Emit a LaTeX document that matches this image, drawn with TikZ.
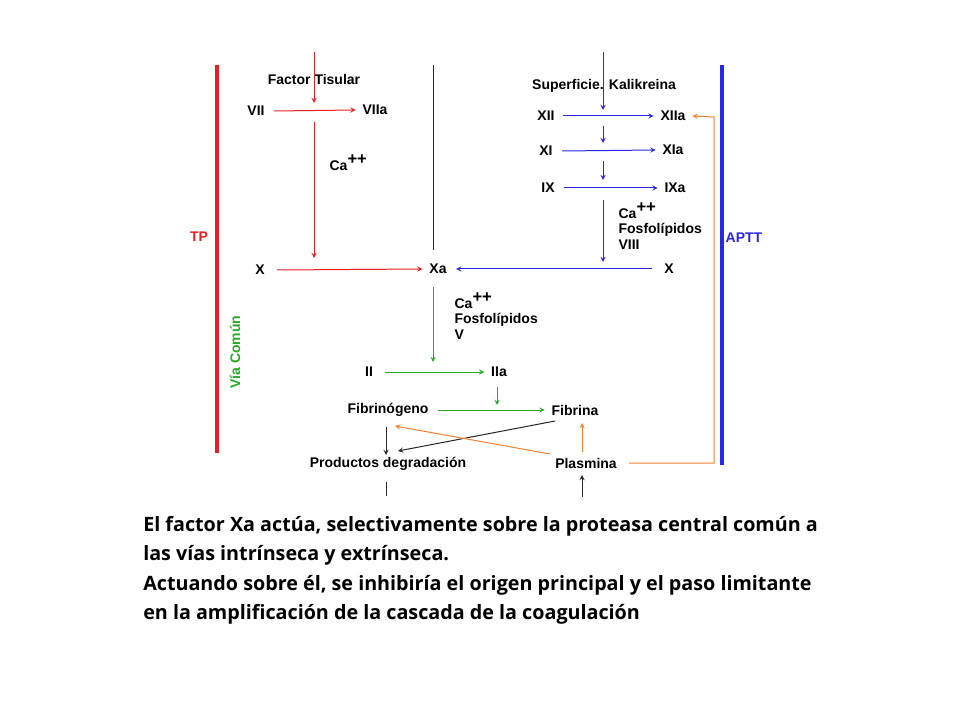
\documentclass[tikz,border=0pt]{standalone}
\usepackage{fontspec}
\setmainfont{Liberation Sans}
\newfontfamily\bodyfont{Open Sans}
\newcommand{\capp}{Ca\raisebox{0.8ex}{\fontsize{12.5}{12.5}\selectfont ++}}
\begin{document}
\begin{tikzpicture}[x=0.75pt,y=-0.75pt,
 lbl/.style={font=\bfseries\fontsize{10.5}{11.5}\selectfont,inner sep=1pt},
 ar/.style={->,>=stealth,line width=0.75pt},
 cr/.style={ar,draw={rgb,255:red,235;green,30;blue,35}},
 cb/.style={ar,draw={rgb,255:red,40;green,40;blue,230}},
 cg/.style={ar,draw={rgb,255:red,40;green,170;blue,40}},
 co/.style={ar,draw={rgb,255:red,245;green,130;blue,50}},
 ck/.style={ar,draw=black!85}]
\definecolor{tr}{RGB}{235,30,35}\definecolor{tb}{RGB}{40,40,230}
\definecolor{tg}{RGB}{40,170,40}\definecolor{to}{RGB}{245,130,50}
\useasboundingbox (0,0) rectangle (960,720);
\fill[white] (0,0) rectangle (960,720);
% bars
\coordinate (tpT) at (217,65); \coordinate (tpB) at (217,453);
\draw[tr,line width=2.4pt] (tpT)--(tpB);
\coordinate (apT) at (722,65); \coordinate (apB) at (722,465);
\draw[tb,line width=2.4pt] (apT)--(apB);
\node[lbl,text=tr] (tp) at (199,237) {TP};
\node[lbl,text=tb] (aptt) at (744,238) {APTT};
\node[lbl,text=tg,rotate=90] (via) at (235,352) {Vía Común};
\coordinate (kT) at (433,65); \coordinate (kB) at (433,250);
\draw[black!85,line width=0.75pt] (kT)--(kB);
% extrinsic
\node[lbl] (ft) at (314,79) {Factor Tisular};
\coordinate (ftT) at (314,52); \coordinate (ftB) at (314,103);
\draw[cr] (ftT)--(ftB);
\node[lbl] (vii) at (256,111) {VII};
\node[lbl] (viia) at (375,110) {VIIa};
\draw[cr] ([xshift=6pt]vii.east) -- ([xshift=-4pt]viia.west);
\coordinate (rT) at (314,122); \coordinate (rB) at (314,258);
\draw[cr] (rT)--(rB);
\node[lbl,anchor=west] (ca1) at (328,163) {\capp};
\node[lbl] (x1) at (260,270) {X};
\node[lbl] (xa) at (438,269) {Xa};
\draw[cr] ([xshift=8pt]x1.east) -- ([xshift=-4pt]xa.west);
% intrinsic
\node[lbl] (sk) at (604,86) {Superficie. Kalikreina};
\coordinate (bT) at (603,52); \coordinate (bB) at (603,110);
\draw[cb] (bT)--(bB);
\node[lbl] (xii) at (546,116) {XII};
\node[lbl] (xiia) at (673,116) {XIIa};
\draw[cb] ([xshift=5pt]xii.east) -- ([xshift=-4pt]xiia.west);
\coordinate (b2T) at (603,126); \coordinate (b2B) at (603,143);
\draw[cb] (b2T)--(b2B);
\node[lbl] (xi) at (546,151) {XI};
\node[lbl] (xia) at (673,150) {XIa};
\draw[cb] ([xshift=6pt]xi.east) -- ([xshift=-4pt]xia.west);
\coordinate (b3T) at (603,161); \coordinate (b3B) at (603,180);
\draw[cb] (b3T)--(b3B);
\node[lbl] (ix) at (548,188) {IX};
\node[lbl] (ixa) at (675,188) {IXa};
\draw[cb] ([xshift=6pt]ix.east) -- ([xshift=-4pt]ixa.west);
\coordinate (b4T) at (603,200); \coordinate (b4B) at (603,262);
\draw[cb] (b4T)--(b4B);
\node[lbl,anchor=west,align=left] (cf1) at (617,226) {\capp\\Fosfolípidos\\VIII};
\node[lbl] (x2) at (669,269) {X};
\draw[cb] ([xshift=-8pt]x2.west) -- ([xshift=6pt]xa.east);
% orange feedback
\node[lbl] (pl) at (586,463) {Plasmina};
\coordinate (o1) at (714,463); \coordinate (o2) at (714,117);
\draw[co] ([xshift=8pt]pl.east) -- (o1) -- (o2) -- ([xshift=4pt]xiia.east);
% common
\coordinate (gT) at (433,287); \coordinate (gB) at (433,362);
\draw[cg] (gT)--(gB);
\node[lbl,anchor=west,align=left] (cf2) at (453,316) {\capp\\Fosfolípidos\\V};
\node[lbl] (ii) at (369,372) {II};
\node[lbl] (iia) at (499,372) {IIa};
\draw[cg] ([xshift=8pt]ii.east) -- ([xshift=-4pt]iia.west);
\coordinate (g2T) at (497,387); \coordinate (g2B) at (497,405);
\draw[cg] (g2T)--(g2B);
\node[lbl] (fg) at (388,410) {Fibrinógeno};
\node[lbl] (fb) at (575,410) {Fibrina};
\draw[cg] ([xshift=6pt]fg.east) -- ([xshift=-4pt]fb.west);
\node[lbl] (pd) at (388,464) {Productos degradación};
\coordinate (k1T) at (386,427); \coordinate (k1B) at (386,455);
\draw[ck] (k1T)--(k1B);
\coordinate (fbS) at (555,421); \coordinate (pdN) at (398,451);
\draw[ck] (fbS)--(pdN);
\coordinate (plN) at (550,454); \coordinate (fgS) at (395,426);
\draw[co] (plN)--(fgS);
\coordinate (o3B) at (582,452); \coordinate (o3T) at (582,423);
\draw[co] (o3B)--(o3T);
\coordinate (k2T) at (386,482); \coordinate (k2B) at (386,496);
\draw[black!85,line width=0.75pt] (k2T)--(k2B);
\coordinate (k3B) at (582,497); \coordinate (k3T) at (582,475);
\draw[ck] (k3B)--(k3T);
% text
\node[anchor=north west,align=left,inner sep=0pt,font=\bodyfont\bfseries\fontsize{14.8}{22}\selectfont] (txt) at (143,516)
{El factor Xa actúa, selectivamente sobre la proteasa central común a\\las vías intrínseca y extrínseca.\\Actuando sobre él, se inhibiría el origen principal y el paso limitante\\en la amplificación de la cascada de la coagulación};
\end{tikzpicture}
\end{document}
